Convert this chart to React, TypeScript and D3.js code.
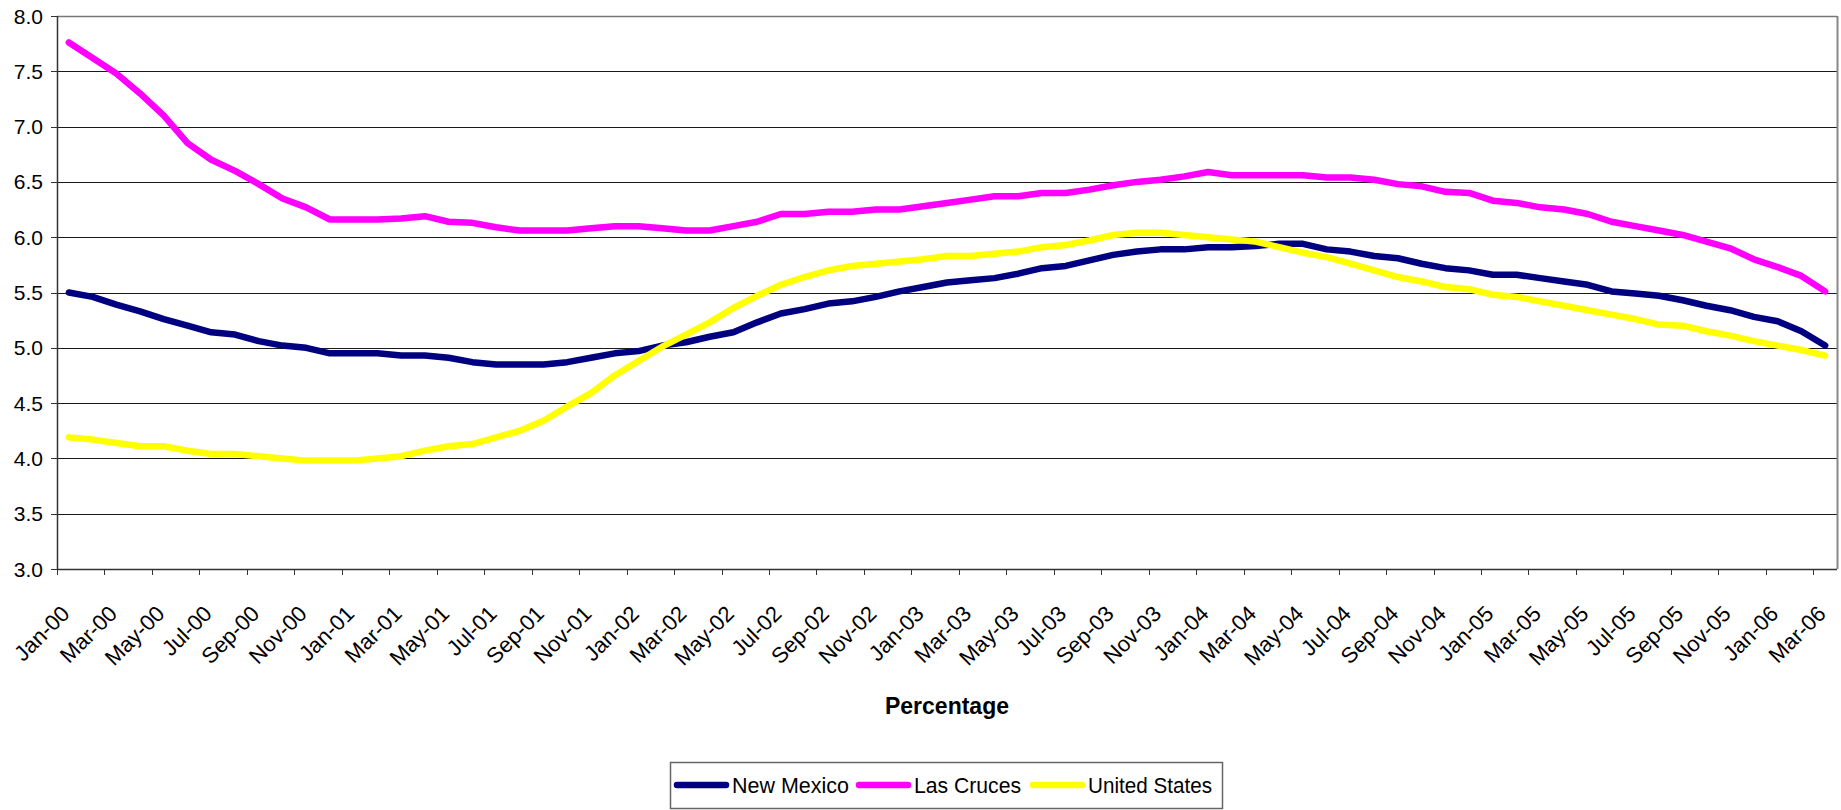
import React from "react";
import * as d3 from "d3";

const months: string[] = d3
  .timeMonths(new Date(2000, 0, 1), new Date(2006, 3, 1))
  .map((d) => d3.timeFormat("%b-%y")(d));

const yTicks = [3.0, 3.5, 4.0, 4.5, 5.0, 5.5, 6.0, 6.5, 7.0, 7.5, 8.0];

const newMexico = [5.50,5.46,5.39,5.33,5.26,5.20,5.14,5.12,5.06,5.02,5.00,4.95,4.95,4.95,4.93,4.93,4.91,4.87,4.85,4.85,4.85,4.87,4.91,4.95,4.97,5.02,5.05,5.10,5.14,5.23,5.31,5.35,5.40,5.42,5.46,5.51,5.55,5.59,5.61,5.63,5.67,5.72,5.74,5.79,5.84,5.87,5.89,5.89,5.91,5.91,5.92,5.94,5.94,5.89,5.87,5.83,5.81,5.76,5.72,5.70,5.66,5.66,5.63,5.60,5.57,5.51,5.49,5.47,5.43,5.38,5.34,5.28,5.24,5.15,5.02];
const lasCruces = [7.76,7.62,7.48,7.30,7.10,6.85,6.70,6.60,6.48,6.35,6.27,6.16,6.16,6.16,6.17,6.19,6.14,6.13,6.09,6.06,6.06,6.06,6.08,6.10,6.10,6.08,6.06,6.06,6.10,6.14,6.21,6.21,6.23,6.23,6.25,6.25,6.28,6.31,6.34,6.37,6.37,6.40,6.40,6.43,6.47,6.50,6.52,6.55,6.59,6.56,6.56,6.56,6.56,6.54,6.54,6.52,6.48,6.46,6.41,6.40,6.33,6.31,6.27,6.25,6.21,6.14,6.10,6.06,6.02,5.96,5.90,5.80,5.73,5.65,5.51];
const unitedStates = [4.19,4.17,4.14,4.11,4.11,4.07,4.04,4.04,4.02,4.00,3.98,3.98,3.98,4.00,4.02,4.07,4.11,4.13,4.19,4.25,4.34,4.47,4.59,4.75,4.88,5.01,5.12,5.23,5.36,5.47,5.57,5.64,5.70,5.74,5.76,5.78,5.80,5.83,5.83,5.85,5.87,5.91,5.93,5.97,6.02,6.04,6.04,6.02,6.00,5.98,5.96,5.91,5.86,5.82,5.76,5.70,5.64,5.60,5.55,5.53,5.48,5.46,5.42,5.38,5.34,5.30,5.26,5.21,5.20,5.15,5.11,5.06,5.02,4.98,4.93];

const seriesNames = ["New Mexico", "Las Cruces", "United States"];
const seriesColors = ["#000080", "#FF00FF", "#FFFF00"];
const seriesData = [newMexico, lasCruces, unitedStates];

const W = 1841;
const H = 810;
const L = 57, R = 1837, T = 16, B = 569;
const FONT = "'Liberation Sans', Arial, Helvetica, sans-serif";

export default function App() {
  const x = d3.scaleBand<string>().domain(months).range([L, R]).padding(0);
  const bw = x.bandwidth();
  const cx = (i: number) => (x(months[i]) as number) + bw / 2;
  const y = d3.scaleLinear().domain([3, 8]).range([B, T]);

  const line = d3
    .line<number>()
    .x((_, i) => cx(i))
    .y((v) => y(v));

  const tickIdx = months.map((_, i) => i).filter((i) => i % 2 === 0);

  const legendItems = [
    { x1: 677, x2: 726, tx: 732, tl: 117 },
    { x1: 859, x2: 908, tx: 914, tl: 107 },
    { x1: 1033, x2: 1082, tx: 1088, tl: 124 },
  ];
  const legY = 785;

  return (
    <svg
      width={W}
      height={H}
      style={{ position: "absolute", left: 0, top: 0, background: "#fff" }}
      fontFamily={FONT}
    >
      <rect x={0} y={0} width={W} height={H} fill="#fff" />
      {yTicks.filter((t) => t > 3).map((t) => (
        <line key={t} x1={L} x2={R} y1={Math.round(y(t)) + 0.5} y2={Math.round(y(t)) + 0.5} stroke="#1a1a1a" strokeWidth={1} />
      ))}
      <line x1={R + 0.5} x2={R + 0.5} y1={T} y2={B} stroke="#888" strokeWidth={2} />
      <line x1={L} x2={R} y1={Math.round(y(8)) + 0.5} y2={Math.round(y(8)) + 0.5} stroke="#777" strokeWidth={1.5} />
      <line x1={L + 0.5} x2={L + 0.5} y1={T} y2={B} stroke="#333" strokeWidth={1.5} />
      {yTicks.map((t) => (
        <g key={t}>
          <line x1={L - 6} x2={L} y1={Math.round(y(t)) + 0.5} y2={Math.round(y(t)) + 0.5} stroke="#333" strokeWidth={1} />
          <text x={43} y={y(t) + 7.5} textAnchor="end" fontSize={21} fill="#000">
            {t.toFixed(1)}
          </text>
        </g>
      ))}
      <line x1={L} x2={R} y1={B + 0.5} y2={B + 0.5} stroke="#333" strokeWidth={1.5} />
      {tickIdx.map((i) => (
        <line key={i} x1={Math.round(x(months[i]) as number) + 0.5} x2={Math.round(x(months[i]) as number) + 0.5} y1={B} y2={B + 6} stroke="#333" strokeWidth={1} />
      ))}
      {tickIdx.map((i) => (
        <text
          key={"l" + i}
          transform={`translate(${cx(i) + 2},${B + 46}) rotate(-45)`}
          textAnchor="end"
          fontSize={22}
          fill="#000"
        >
          {months[i]}
        </text>
      ))}
      {seriesData.map((s, k) => (
        <path
          key={seriesNames[k]}
          d={line(s) as string}
          fill="none"
          stroke={seriesColors[k]}
          strokeWidth={6.5}
          strokeLinejoin="round"
          strokeLinecap="round"
        />
      ))}
      <text x={947} y={714} textAnchor="middle" fontSize={23} fontWeight="bold" fill="#000">
        Percentage
      </text>
      <rect x={670.5} y={762.5} width={552} height={46} fill="#fff" stroke="#666" strokeWidth={1.5} />
      {legendItems.map((it, k) => (
        <g key={seriesNames[k]}>
          <line x1={it.x1} x2={it.x2} y1={legY} y2={legY} stroke={seriesColors[k]} strokeWidth={6.5} strokeLinecap="round" />
          <text x={it.tx} y={legY + 8} fontSize={22} textLength={it.tl} lengthAdjust="spacingAndGlyphs" fill="#000">
            {seriesNames[k]}
          </text>
        </g>
      ))}
    </svg>
  );
}
